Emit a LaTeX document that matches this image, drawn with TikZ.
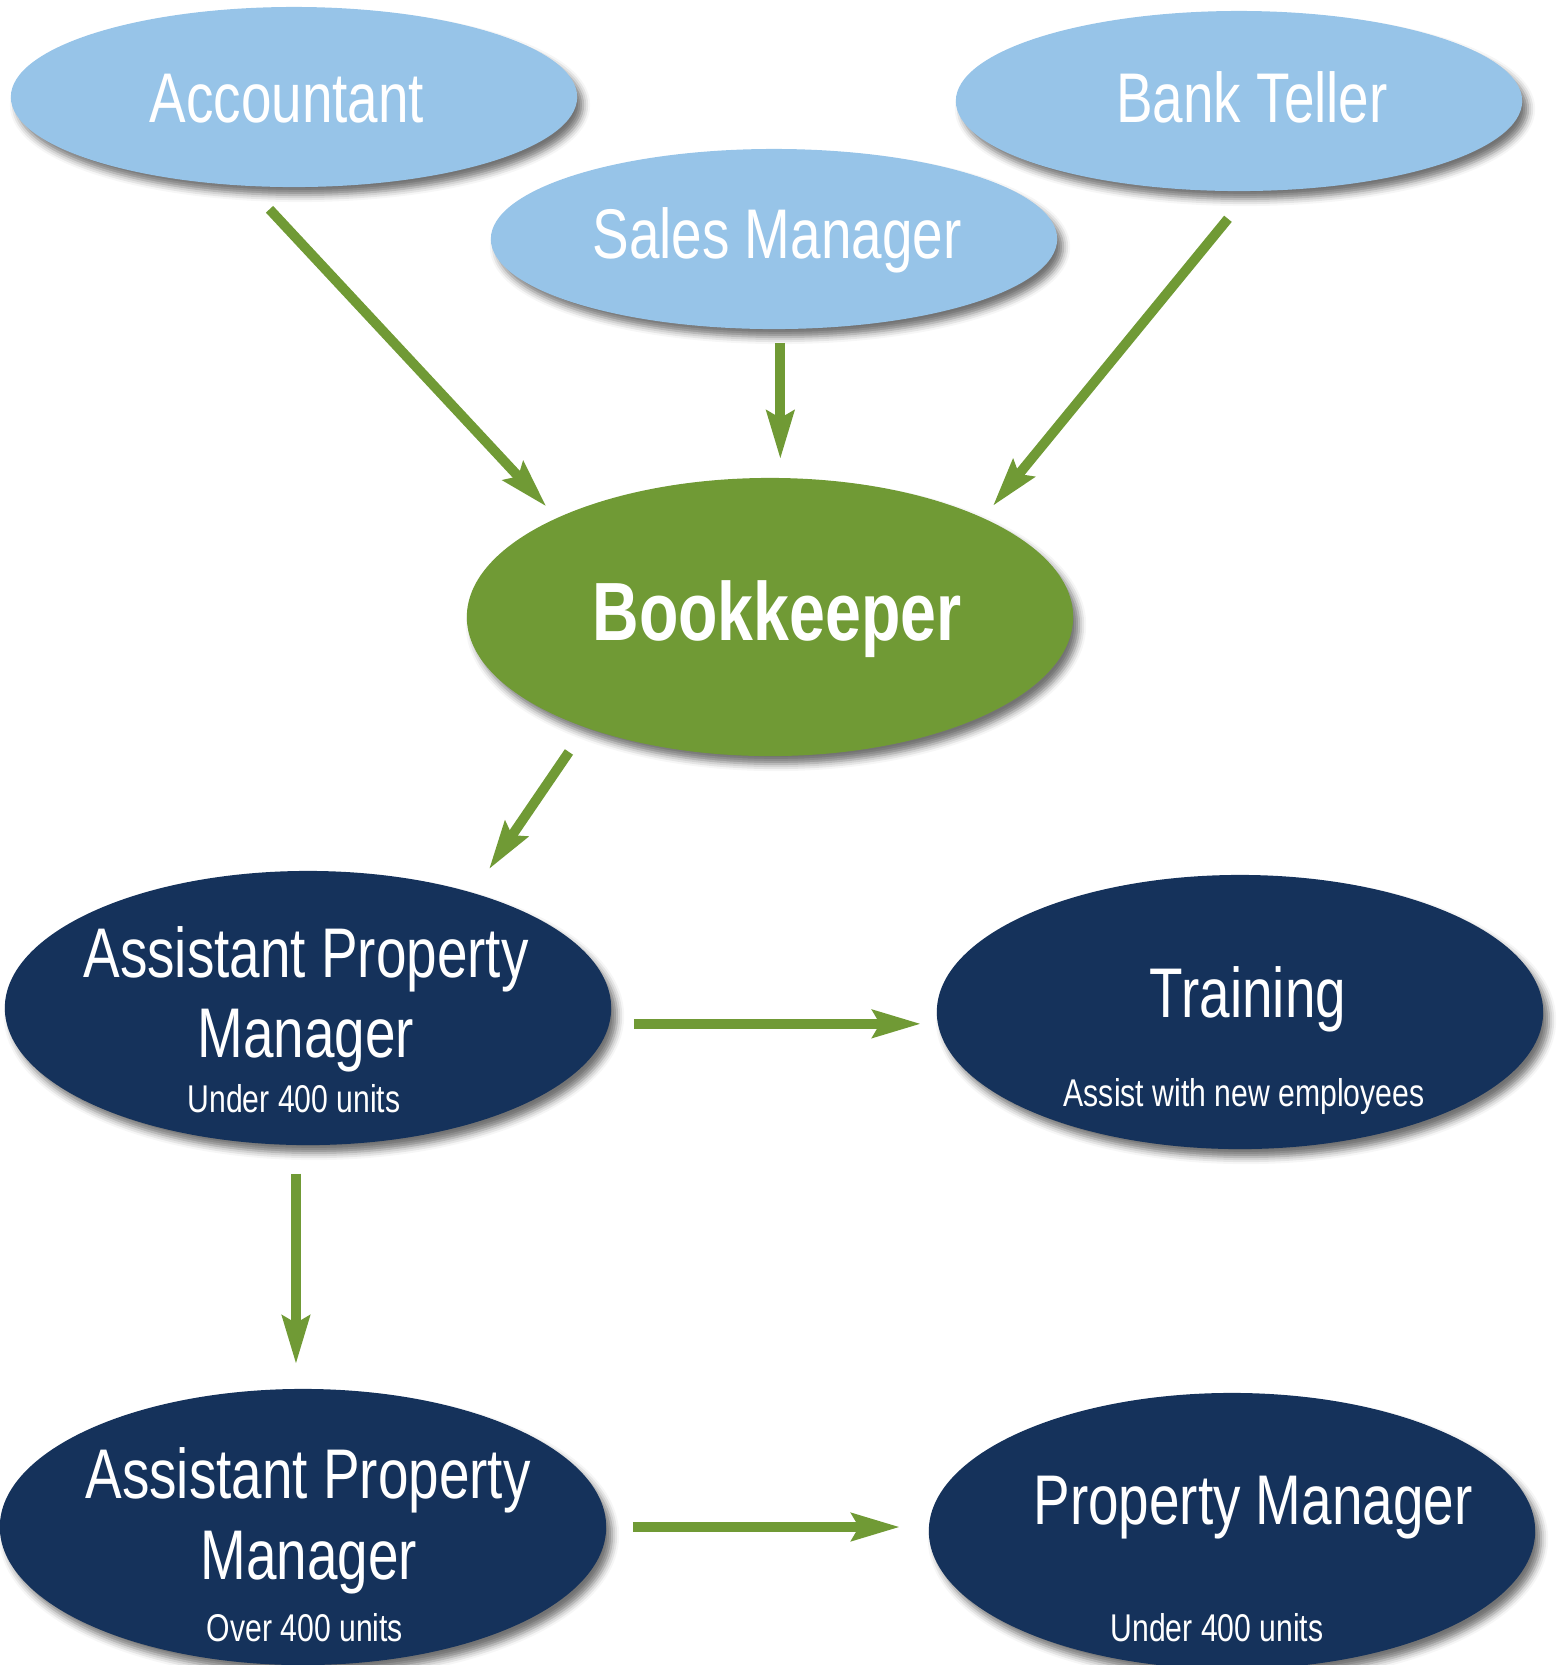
\documentclass[tikz,border=0pt]{standalone}
\usepackage{fontspec}
\setmainfont{Liberation Sans}[FakeStretch=0.78]
\usetikzlibrary{shapes.geometric,arrows.meta,shadows.blur}
\definecolor{skyblue}{RGB}{151,196,232}
\definecolor{leafgreen}{RGB}{112,154,53}
\definecolor{navyblue}{RGB}{21,50,91}

\begin{document}
\begin{tikzpicture}[x=0.01cm,y=-0.01cm,
  blob/.style={ellipse,inner sep=0pt,blur shadow={shadow xshift=0.06cm,shadow yshift=-0.08cm,shadow blur radius=0.07cm,shadow opacity=55}},
  small/.style={blob,fill=skyblue,minimum width=5.66cm,minimum height=1.8cm},
  big/.style={blob,fill=navyblue,minimum width=6.06cm,minimum height=2.74cm},
  title/.style={text=white,anchor=base,inner sep=0pt,font=\fontsize{20}{24}\selectfont},
  note/.style={text=white,anchor=base,inner sep=0pt,font=\fontsize{11}{13}\selectfont},
  flow/.style={draw=leafgreen,line width=2.8pt,-{Stealth[length=0.48cm,width=0.27cm,inset=0.07cm]}}]
  \useasboundingbox (0,0) rectangle (1556,1665);

  \node[small] (acc)   at (294,97)  {};
  \node[small] (sales) at (774,239) {};
  \node[small] (bank)  at (1239,101) {};
  \node[blob,fill=leafgreen,minimum width=6.06cm,minimum height=2.78cm] (book) at (770,617) {};
  \node[big] (apm1)  at (308,1008) {};
  \node[big] (train) at (1240,1012) {};
  \node[big,minimum height=2.76cm] (apm2)  at (303,1527) {};
  \node[big,minimum height=2.76cm] (pm)    at (1232,1531) {};

  \node[title] (acc-t)   at (287,122)  {Accountant};
  \node[title] (sales-t) at (777,258)  {Sales Manager};
  \node[title] (bank-t)  at (1252,122) {Bank Teller};
  \node[title,font=\bfseries\fontsize{23.5}{27}\selectfont] (book-t) at (777,640) {Bookkeeper};
  \node[title] (apm1-t1) at (306,977)  {Assistant Property};
  \node[title] (apm1-t2) at (306,1057) {Manager};
  \node[note]  (apm1-n)  at (294,1112) {Under 400 units};
  \node[title] (train-t) at (1248,1017) {Training};
  \node[note]  (train-n) at (1244,1106) {Assist with new employees};
  \node[title] (apm2-t1) at (308,1498) {Assistant Property};
  \node[title] (apm2-t2) at (309,1579) {Manager};
  \node[note]  (apm2-n)  at (305,1641) {Over 400 units};
  \node[title] (pm-t)    at (1253,1524) {Property Manager};
  \node[note]  (pm-n)    at (1217,1641) {Under 400 units};

  \draw[flow,shorten <=0.31cm,shorten >=0.15cm] (acc.243.6) -- (book.155.5);
  \draw[flow,shorten <=0.13cm,shorten >=0.18cm] (sales.274.45) -- (sales.274.45 |- book.north);
  \draw[flow,shorten <=0.35cm,shorten >=0.15cm] (bank.277.4) -- (book.25.9);
  \draw[flow,shorten <=0.29cm,shorten >=0.28cm] (book.211.1) -- (apm1.35.65);
  \draw[flow,shorten <=0.24cm,shorten >=0.15cm] (apm1.357.9) -- (apm1.357.9 -| train.west);
  \draw[flow,shorten <=0.28cm,shorten >=0.24cm] (apm1.265.8) -- (apm1.265.8 |- apm2.north);
  \draw[flow,shorten <=0.26cm,shorten >=0.28cm] (apm2.0.8) -- (apm2.0.8 -| pm.west);
\end{tikzpicture}
\end{document}
